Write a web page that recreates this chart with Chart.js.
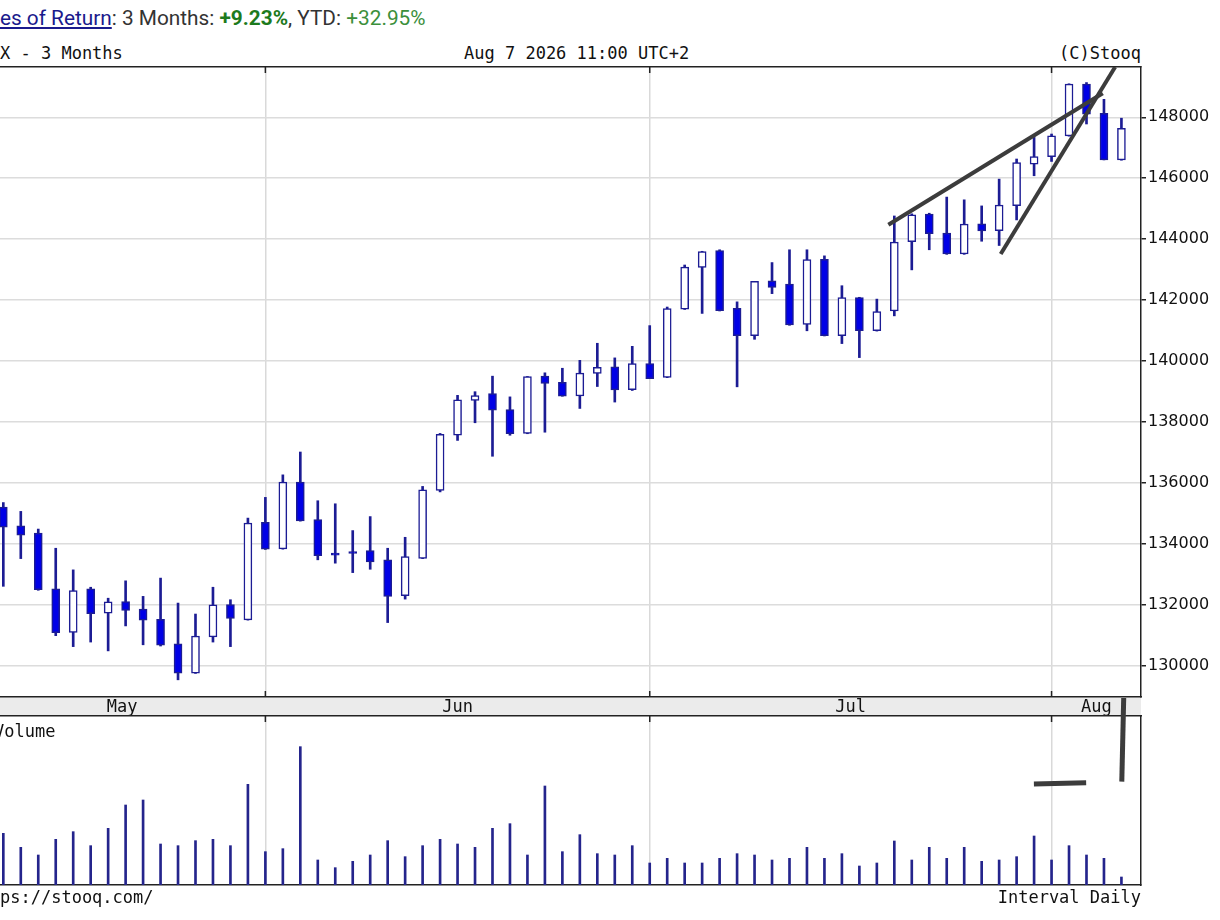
<!DOCTYPE html>
<html>
<head>
<meta charset="utf-8">
<script src="https://cdn.jsdelivr.net/npm/chart.js@4.4.1/dist/chart.umd.min.js"></script>
<style>
  html, body { margin: 0; padding: 0; background: #fff; }
  #wrap { position: relative; width: 1220px; height: 920px; overflow: hidden; }
  .mono { position: absolute; font-family: "DejaVu Sans Mono", monospace; font-size: 17px; line-height: 20px; color: #111; white-space: pre; }
  #rates { position: absolute; top: 5px; left: 0; font-family: Roboto, sans-serif; font-size: 20.8px; line-height: 26px; color: #333; white-space: nowrap; }
  #rates a { color: #1a1a8c; text-decoration: underline; }
  .g1 { color: #1d7a1d; font-weight: bold; }
  .g2 { color: #3b8f3b; }
  #band { position: absolute; left: 0; top: 697px; width: 1141px; height: 19px; background: #ebebeb; }
  canvas { position: absolute; left: 0; }
</style>
</head>
<body>
<div id="wrap">
  <div id="rates"><a><span id="crop">Rat</span>es of Return</a>: 3 Months: <span class="g1">+9.23%</span>, YTD: <span class="g2">+32.95%</span></div>
  <div class="mono" style="left:0; top:43px;">X - 3 Months</div>
  <div class="mono" style="left:464px; top:43px;">Aug 7 2026 11:00 UTC+2</div>
  <div class="mono" style="right:79px; top:43px;">(C)Stooq</div>
  <div id="band"></div>
  <canvas id="priceChart" width="1220" height="676" style="top:40px;"></canvas>
  <canvas id="volChart" width="1220" height="200" style="top:690px;"></canvas>
  <div class="mono" style="left:-6px; top:721px;">Volume</div>
  <div class="mono" style="left:-3ch; top:887px;">https://stooq.com/</div>
  <div class="mono" style="right:79px; top:887px;">Interval Daily</div>
</div>
<script>
// sessions visibles (mai -> aout)
const dates = [
  '2026-05-11','2026-05-12','2026-05-13','2026-05-14','2026-05-15',
  '2026-05-18','2026-05-19','2026-05-20','2026-05-21','2026-05-22',
  '2026-05-25','2026-05-26','2026-05-27','2026-05-28','2026-05-29',
  '2026-06-01','2026-06-02','2026-06-03','2026-06-04','2026-06-05',
  '2026-06-08','2026-06-09','2026-06-10','2026-06-11','2026-06-12',
  '2026-06-15','2026-06-16','2026-06-17','2026-06-18','2026-06-19',
  '2026-06-22','2026-06-23','2026-06-24','2026-06-25','2026-06-26',
  '2026-06-29','2026-06-30',
  '2026-07-01','2026-07-02','2026-07-03',
  '2026-07-06','2026-07-07','2026-07-08','2026-07-09','2026-07-10',
  '2026-07-13','2026-07-14','2026-07-15','2026-07-16','2026-07-17',
  '2026-07-20','2026-07-21','2026-07-22','2026-07-23','2026-07-24',
  '2026-07-27','2026-07-28','2026-07-29','2026-07-30','2026-07-31',
  '2026-08-03','2026-08-04','2026-08-05','2026-08-06','2026-08-07'
];
const openP = [
  135200,134590,134350,132520,131090,132520,131720,132100,131850,131520,
  130710,129750,130940,132000,131500,134700,133830,136020,134790,133690,
  133740,133770,133470,132290,133520,135750,137560,138700,138930,138400,
  137620,139500,139300,138850,139590,139810,139060,139910,139460,141700,
  143070,143620,141730,140830,142630,142520,141200,143340,140830,142080,
  140990,141640,143920,144820,144200,143510,144500,144280,145100,146460,
  146710,147390,149090,148130,146600
];
const highP = [
  135350,135060,134480,133850,133140,132570,132210,132780,132270,132870,
  132050,131690,132570,132160,134840,135520,136260,137010,135410,135310,
  134430,134890,133850,134210,135880,137620,138870,138990,139500,138820,
  139490,139610,139760,140020,140580,140100,140480,141160,141770,143150,
  143600,143650,141940,142610,143230,143650,143650,143450,142470,142090,
  142030,144760,144830,144850,145380,145290,145090,145970,146630,147340,
  147450,149100,149140,148590,147970
];
const lowP = [
  132600,133510,132470,130980,130620,130770,130480,131300,130680,130640,
  129530,129740,130770,130620,131490,133810,133820,134740,133470,133360,
  133050,133160,131410,132180,133510,135700,137390,137970,136870,137560,
  137610,137660,138840,138440,139160,138650,139030,139420,139450,141690,
  141560,141640,139150,140710,142210,141170,140990,140820,140570,140110,
  140980,141480,142990,143650,143500,143500,143930,143790,144630,146080,
  146550,147380,147780,146600,146590
];
const closeP = [
  134540,134280,132490,131080,132460,131700,132090,131810,131490,130670,
  129750,130970,131990,131550,134680,133820,136020,134750,133610,133620,
  133680,133400,132270,133580,135770,137590,138720,138860,138380,137610,
  139490,139260,138840,139600,139790,139050,139910,139420,141720,143080,
  143590,141650,140830,142610,142410,141180,143330,140830,142080,140990,
  141620,143900,144800,144180,143510,144490,144270,145120,146510,146710,
  147390,149090,148100,146600,147640
];
const volume = [
  155,113,90,137,160,118,170,240,255,123,
  118,133,137,118,302,100,109,415,75,52,
  71,90,133,85,118,137,123,113,170,184,
  90,297,100,151,94,90,118,66,80,66,
  66,80,94,90,75,80,113,80,94,57,
  66,132,75,113,80,113,71,75,85,147,
  75,118,90,80,24
];
const yTicks = [130000,132000,134000,136000,138000,140000,142000,144000,146000,148000];
const monthNames = ['May','Jun','Jul','Aug'];

// traits dessines a la main (index de seance, valeur)
const trendUpper = [{x: 50.66, y: 144470}, {x: 62.93, y: 148790}];
const trendLower = [{x: 57.09, y: 143510}, {x: 63.64, y: 149650}];
const volStrokeH = [{x: 58.99, y: 303}, {x: 61.98, y: 307}];
const volStrokeV = [{x: 64.13, y: 561}, {x: 64.02, y: 310}];

const xMin = -0.19, xMax = 65.12, hiddenStart = -1.4;
const yMin = 128966, yMax = 149651;
const volMax = 507;

// debut de chaque mois
const monthStarts = [];
dates.forEach((d, i) => {
  if (i > 0 && d.slice(5, 7) !== dates[i - 1].slice(5, 7)) monthStarts.push(i);
});
const monthCenters = monthNames.map((m, k) => {
  const a = k === 0 ? hiddenStart : monthStarts[k - 1];
  const b = k === monthNames.length - 1 ? xMax : monthStarts[k];
  return (a + b) / 2;
});

const dark = '#222';
const candleEdge = '#1c1c94';
const candleFill = '#0000e6';
const penColor = '#3c3c3c';

const monthTicks = {
  id: 'monthTicks',
  afterDraw(chart, args, opts) {
    const {ctx, chartArea} = chart;
    const sx = chart.scales.x;
    ctx.save();
    ctx.strokeStyle = dark;
    ctx.lineWidth = 1.5;
    monthStarts.forEach(v => {
      const px = sx.getPixelForValue(v);
      ctx.beginPath();
      if (opts.top) { ctx.moveTo(px, chartArea.top); ctx.lineTo(px, chartArea.top + 6); }
      if (opts.bottom) { ctx.moveTo(px, chartArea.bottom - 6); ctx.lineTo(px, chartArea.bottom); }
      ctx.stroke();
    });
    ctx.restore();
  }
};

// graphique des cours
const priceChart = new Chart(document.querySelector('#priceChart'), {
  type: 'bar',
  data: {
    datasets: [
      {
        type: 'line', data: trendUpper, borderColor: penColor, borderWidth: 4,
        pointRadius: 0, order: 0
      },
      {
        type: 'line', data: trendLower, borderColor: penColor, borderWidth: 4,
        pointRadius: 0, order: 0
      },
      {
        data: dates.map((d, i) => ({x: i, y: [openP[i], closeP[i]]})),
        backgroundColor: dates.map((d, i) => closeP[i] >= openP[i] ? '#ffffff' : candleFill),
        borderColor: candleEdge,
        borderWidth: 1.5,
        borderSkipped: false,
        barThickness: 8,
        grouped: false,
        order: 1
      },
      {
        data: dates.map((d, i) => ({x: i, y: [lowP[i], highP[i]]})),
        backgroundColor: candleEdge,
        barThickness: 2,
        grouped: false,
        order: 2
      }
    ]
  },
  options: {
    responsive: false,
    animation: false,
    layout: { padding: { top: 27, left: 0, right: 0, bottom: 0 } },
    plugins: {
      legend: { display: false },
      tooltip: { enabled: false },
      monthTicks: { top: true, bottom: true }
    },
    scales: {
      x: {
        type: 'linear', position: 'bottom', min: xMin, max: xMax, offset: false,
        afterBuildTicks: s => { s.ticks = monthCenters.map(v => ({value: v})); },
        afterFit: s => { s.height = 19; },
        ticks: {
          callback: (v, i) => monthNames[i],
          font: { family: 'DejaVu Sans Mono', size: 17 },
          color: '#111', padding: 0, maxRotation: 0, autoSkip: false
        },
        grid: { display: false, drawTicks: false, offset: false },
        border: { display: true, color: dark, width: 1.5 }
      },
      xGrid: {
        type: 'linear', position: 'top', min: xMin, max: xMax, offset: false,
        afterBuildTicks: s => { s.ticks = monthStarts.map(v => ({value: v})); },
        afterFit: s => { s.height = 0; },
        ticks: { display: false, autoSkip: false },
        grid: { color: '#d9d9d9', lineWidth: 1.5, drawTicks: false, offset: false },
        border: { display: true, color: dark, width: 1.5 }
      },
      y: {
        type: 'linear', position: 'right', min: yMin, max: yMax,
        afterBuildTicks: s => { s.ticks = yTicks.map(v => ({value: v})); },
        afterFit: s => { s.width = 79; },
        ticks: {
          callback: v => String(v),
          font: { family: 'DejaVu Sans', size: 16 },
          color: '#111', padding: 2
        },
        grid: { color: '#dcdcdc', lineWidth: 1.5, tickColor: dark, tickLength: 5 },
        border: { color: dark, width: 1.5 }
      }
    }
  },
  plugins: [monthTicks]
});

// graphique des volumes
const volChart = new Chart(document.querySelector('#volChart'), {
  type: 'bar',
  data: {
    datasets: [
      {
        type: 'line', data: volStrokeH, borderColor: penColor, borderWidth: 5,
        pointRadius: 0, clip: false, order: 0
      },
      {
        type: 'line', data: volStrokeV, borderColor: penColor, borderWidth: 5,
        pointRadius: 0, clip: false, order: 0
      },
      {
        data: dates.map((d, i) => ({x: i, y: volume[i]})),
        backgroundColor: '#24248c',
        barThickness: 2,
        grouped: false,
        order: 1
      }
    ]
  },
  options: {
    responsive: false,
    animation: false,
    layout: { padding: { top: 26, left: 0, right: 0, bottom: 5 } },
    plugins: {
      legend: { display: false },
      tooltip: { enabled: false },
      monthTicks: { top: true, bottom: false }
    },
    scales: {
      x: {
        type: 'linear', position: 'bottom', min: xMin, max: xMax, offset: false,
        afterBuildTicks: s => { s.ticks = monthStarts.map(v => ({value: v})); },
        afterFit: s => { s.height = 0; },
        ticks: { display: false, autoSkip: false },
        grid: { color: '#d9d9d9', lineWidth: 1.5, drawTicks: false, offset: false },
        border: { display: true, color: dark, width: 1.5 }
      },
      xTop: {
        type: 'linear', position: 'top', min: xMin, max: xMax, offset: false,
        afterFit: s => { s.height = 0; },
        ticks: { display: false },
        grid: { display: false, drawTicks: false, offset: false },
        border: { display: true, color: dark, width: 1.5 }
      },
      y: {
        type: 'linear', position: 'right', min: 0, max: volMax,
        afterFit: s => { s.width = 79; },
        ticks: { display: false },
        grid: { display: false, drawTicks: false },
        border: { display: true, color: dark, width: 1.5 }
      }
    }
  },
  plugins: [monthTicks]
});

// on cache le debut du lien comme sur l'original
const rates = document.querySelector('#rates');
rates.style.left = -document.querySelector('#crop').offsetWidth + 'px';
</script>
</body>
</html>
